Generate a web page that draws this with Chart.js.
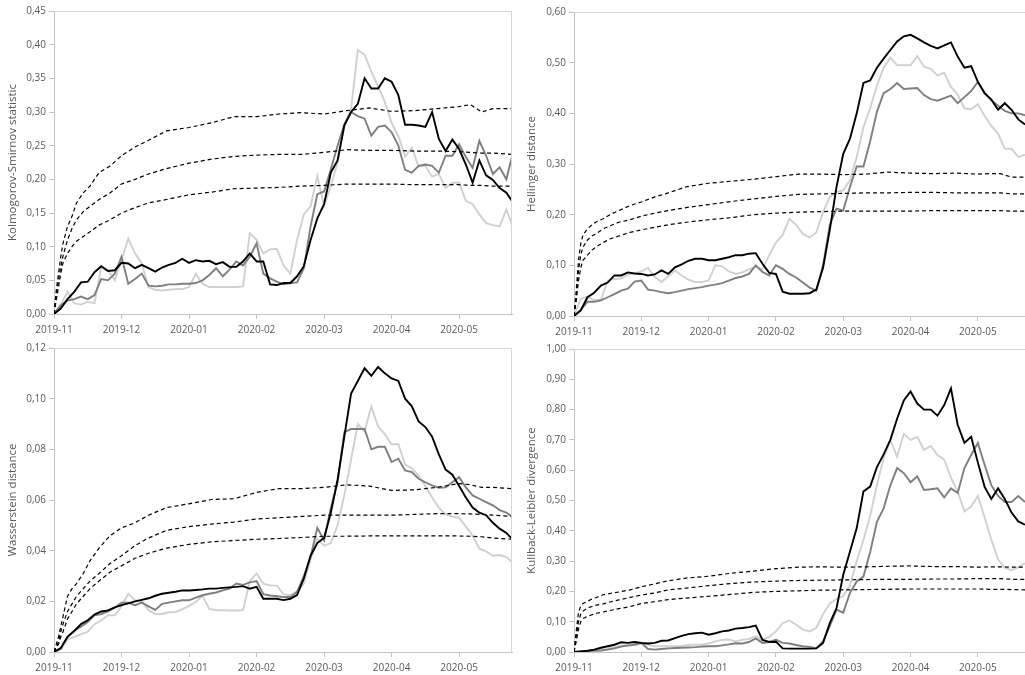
<!DOCTYPE html>
<html>
<head>
<meta charset="utf-8">
<script src="https://cdn.jsdelivr.net/npm/chart.js@4.4.1/dist/chart.umd.min.js"></script>
<style>
  body { margin: 0; background: #fff; }
  .panel { position: absolute; }
</style>
</head>
<body>
<div class="panel" style="left:0;top:0;width:513px;height:337px"><canvas id="ks"></canvas></div>
<div class="panel" style="left:512px;top:0;width:513px;height:337px"><canvas id="hel"></canvas></div>
<div class="panel" style="left:0;top:337px;width:513px;height:338px"><canvas id="was"></canvas></div>
<div class="panel" style="left:512px;top:337px;width:513px;height:338px"><canvas id="kl"></canvas></div>
<script>
// x is a day index, 30 per month tick
const days = [0,3,6,9,12,15,18,21,24,27,30,33,36,39,42,45,48,51,54,57,60,63,66,69,72,75,78,81,84,87,
  90,93,96,99,102,105,108,111,114,117,120,123,126,129,132,135,138,141,144,147,150,153,156,159,162,165,168,171,174,177,180,183,186,189,192,195,198,201,203.5];
const refDays = [0,1,2,3,4,6,8,10,13,16,20,25,30,36,42,50,60,70,80,90,100,110,120,130,140,150,160,170,180,185,190,195,203.5];
const monthTicks = [0,30,60,90,120,150,180];
const monthLabels = ['2019-11','2019-12','2020-01','2020-02','2020-03','2020-04','2020-05'];

// Kolmogorov-Smirnov
const ksBlack = [0,0.008,0.022,0.033,0.047,0.048,0.062,0.071,0.064,0.065,0.076,0.075,0.068,0.073,0.068,0.063,0.069,0.073,0.076,0.082,0.076,0.08,0.078,0.079,0.074,0.077,0.07,0.07,0.078,0.09,
  0.078,0.078,0.044,0.043,0.046,0.046,0.056,0.071,0.11,0.142,0.163,0.21,0.228,0.28,0.3,0.312,0.35,0.335,0.335,0.35,0.345,0.325,0.281,0.281,0.28,0.278,0.3,0.26,0.242,0.259,0.245,0.222,0.195,0.228,0.206,0.199,0.187,0.18,0.168];
const ksDark = [0,0.013,0.02,0.022,0.026,0.022,0.028,0.052,0.05,0.06,0.085,0.045,0.052,0.06,0.042,0.041,0.042,0.044,0.044,0.045,0.045,0.046,0.05,0.058,0.068,0.056,0.066,0.078,0.072,0.085,
  0.105,0.06,0.053,0.048,0.044,0.046,0.047,0.068,0.13,0.178,0.182,0.215,0.25,0.282,0.3,0.294,0.29,0.265,0.278,0.28,0.27,0.25,0.214,0.21,0.22,0.222,0.22,0.21,0.235,0.235,0.252,0.233,0.217,0.257,0.235,0.208,0.218,0.2,0.234];
const ksLight = [0,0.014,0.033,0.016,0.014,0.018,0.016,0.07,0.065,0.05,0.08,0.112,0.09,0.075,0.04,0.036,0.035,0.036,0.037,0.037,0.04,0.06,0.045,0.04,0.04,0.04,0.04,0.04,0.041,0.12,
  0.11,0.09,0.096,0.097,0.072,0.06,0.11,0.148,0.16,0.205,0.16,0.19,0.225,0.28,0.305,0.392,0.385,0.36,0.338,0.315,0.284,0.264,0.234,0.247,0.219,0.22,0.204,0.208,0.187,0.195,0.195,0.168,0.163,0.148,0.135,0.132,0.13,0.155,0.133];
const ksRefHigh = [0,0.035,0.06,0.085,0.105,0.13,0.145,0.165,0.18,0.19,0.21,0.22,0.235,0.248,0.258,0.272,0.277,0.284,0.293,0.293,0.297,0.299,0.297,0.302,0.306,0.301,0.302,0.305,0.308,0.311,0.3,0.305,0.305];
const ksRefMid = [0,0.025,0.05,0.07,0.086,0.11,0.127,0.14,0.152,0.16,0.17,0.18,0.193,0.2,0.208,0.216,0.224,0.23,0.234,0.236,0.237,0.237,0.24,0.244,0.243,0.243,0.242,0.242,0.241,0.24,0.239,0.239,0.237];
const ksRefLow = [0,0.02,0.04,0.06,0.076,0.09,0.1,0.108,0.115,0.122,0.132,0.14,0.15,0.158,0.165,0.17,0.177,0.181,0.186,0.187,0.188,0.19,0.191,0.193,0.193,0.193,0.192,0.192,0.192,0.191,0.191,0.19,0.19];

// Hellinger
const helBlack = [0,0.011,0.037,0.046,0.06,0.066,0.08,0.08,0.086,0.084,0.083,0.08,0.082,0.09,0.083,0.096,0.102,0.109,0.113,0.113,0.11,0.11,0.113,0.116,0.12,0.12,0.123,0.124,0.103,0.085,
  0.083,0.048,0.044,0.044,0.044,0.045,0.052,0.095,0.17,0.255,0.32,0.35,0.4,0.46,0.465,0.49,0.508,0.525,0.542,0.552,0.555,0.548,0.54,0.533,0.528,0.534,0.54,0.512,0.49,0.493,0.462,0.44,0.427,0.407,0.42,0.407,0.388,0.378,0.375];
const helDark = [0,0.012,0.028,0.028,0.031,0.037,0.043,0.05,0.054,0.068,0.07,0.052,0.05,0.047,0.045,0.047,0.05,0.053,0.055,0.057,0.06,0.062,0.065,0.07,0.075,0.078,0.083,0.1,0.087,0.08,
  0.1,0.093,0.083,0.076,0.066,0.056,0.05,0.1,0.18,0.212,0.208,0.255,0.295,0.295,0.345,0.403,0.44,0.448,0.46,0.448,0.449,0.45,0.436,0.428,0.425,0.43,0.435,0.42,0.432,0.444,0.462,0.44,0.426,0.415,0.405,0.4,0.4,0.396,0.396];
const helLight = [0,0.034,0.038,0.031,0.032,0.07,0.073,0.074,0.082,0.084,0.088,0.095,0.077,0.067,0.078,0.09,0.08,0.072,0.067,0.067,0.07,0.1,0.098,0.088,0.083,0.086,0.092,0.097,0.092,0.12,
  0.145,0.16,0.192,0.18,0.162,0.155,0.165,0.205,0.235,0.245,0.248,0.268,0.314,0.373,0.41,0.455,0.49,0.51,0.495,0.495,0.495,0.513,0.492,0.488,0.475,0.48,0.452,0.437,0.41,0.408,0.418,0.395,0.375,0.36,0.33,0.33,0.314,0.318,0.318];
const helRefHigh = [0,0.05,0.11,0.143,0.16,0.172,0.18,0.186,0.192,0.2,0.208,0.218,0.225,0.235,0.243,0.255,0.262,0.266,0.27,0.275,0.28,0.28,0.279,0.28,0.284,0.282,0.281,0.282,0.28,0.281,0.281,0.274,0.274];
const helRefMid = [0,0.04,0.09,0.12,0.136,0.15,0.158,0.163,0.172,0.178,0.185,0.19,0.197,0.203,0.208,0.214,0.22,0.226,0.231,0.236,0.24,0.241,0.242,0.243,0.243,0.244,0.244,0.243,0.243,0.243,0.243,0.241,0.241];
const helRefLow = [0,0.03,0.07,0.095,0.11,0.12,0.13,0.137,0.145,0.152,0.158,0.165,0.17,0.175,0.18,0.185,0.19,0.194,0.2,0.203,0.205,0.206,0.207,0.207,0.207,0.207,0.208,0.208,0.208,0.208,0.208,0.207,0.207];

// Wasserstein
const wasBlack = [0,0.0015,0.006,0.0083,0.011,0.0125,0.0148,0.016,0.0164,0.0176,0.0185,0.0192,0.02,0.0206,0.0212,0.0222,0.023,0.0234,0.0238,0.0243,0.0243,0.0245,0.0247,0.025,0.025,0.0253,0.0255,0.0257,0.026,0.025,
  0.0257,0.021,0.021,0.021,0.0205,0.021,0.0225,0.029,0.038,0.043,0.045,0.055,0.068,0.085,0.102,0.107,0.112,0.109,0.1125,0.11,0.108,0.107,0.1,0.097,0.091,0.0888,0.085,0.078,0.072,0.07,0.0655,0.061,0.057,0.055,0.054,0.051,0.0487,0.047,0.0447];
const wasDark = [0,0.0015,0.006,0.0085,0.01,0.0118,0.0145,0.015,0.016,0.0175,0.0195,0.0195,0.0185,0.0195,0.018,0.0166,0.019,0.0195,0.02,0.0204,0.0204,0.0215,0.0224,0.023,0.0235,0.0243,0.025,0.027,0.0265,0.0275,
  0.028,0.0228,0.0223,0.022,0.0217,0.0217,0.0237,0.03,0.0375,0.049,0.044,0.057,0.067,0.0868,0.088,0.088,0.088,0.08,0.081,0.081,0.075,0.0763,0.0717,0.071,0.0684,0.067,0.0658,0.0648,0.065,0.067,0.069,0.065,0.0618,0.0605,0.0592,0.0579,0.056,0.055,0.0535];
const wasLight = [0,0.001,0.005,0.006,0.007,0.008,0.011,0.0125,0.0145,0.0145,0.018,0.023,0.0205,0.02,0.0165,0.015,0.015,0.0157,0.0158,0.0168,0.0182,0.0197,0.0222,0.017,0.0165,0.0165,0.0164,0.0164,0.0165,0.028,
  0.031,0.027,0.0263,0.0262,0.0228,0.0224,0.024,0.027,0.0365,0.0447,0.042,0.043,0.05,0.062,0.076,0.09,0.087,0.097,0.089,0.086,0.082,0.082,0.074,0.0725,0.0697,0.0655,0.061,0.057,0.0543,0.0535,0.053,0.0495,0.046,0.0408,0.0397,0.038,0.0383,0.0375,0.0355];
const wasRefHigh = [0,0.003,0.006,0.01,0.014,0.022,0.025,0.027,0.031,0.036,0.041,0.046,0.049,0.051,0.054,0.057,0.0585,0.0602,0.0605,0.063,0.0645,0.0645,0.065,0.066,0.0655,0.0638,0.064,0.065,0.0665,0.066,0.065,0.065,0.0645];
const wasRefMid = [0,0.002,0.004,0.008,0.011,0.016,0.019,0.022,0.025,0.028,0.031,0.035,0.038,0.042,0.045,0.048,0.0495,0.0505,0.0513,0.0525,0.053,0.0535,0.054,0.054,0.054,0.054,0.0543,0.0546,0.0546,0.0545,0.0543,0.054,0.0535];
const wasRefLow = [0,0.002,0.003,0.006,0.008,0.013,0.016,0.019,0.022,0.025,0.028,0.0316,0.034,0.037,0.039,0.041,0.0425,0.0435,0.044,0.0445,0.0448,0.0452,0.0457,0.0457,0.0458,0.0458,0.0458,0.0458,0.0458,0.0457,0.0455,0.045,0.0445];

// Kullback-Leibler
const klBlack = [0,0.002,0.004,0.008,0.014,0.019,0.024,0.032,0.03,0.033,0.03,0.028,0.03,0.037,0.038,0.046,0.053,0.059,0.062,0.064,0.057,0.062,0.068,0.071,0.077,0.079,0.082,0.087,0.04,0.033,
  0.034,0.012,0.011,0.011,0.011,0.011,0.012,0.03,0.095,0.145,0.255,0.332,0.409,0.53,0.546,0.61,0.652,0.7,0.77,0.83,0.86,0.82,0.8,0.8,0.78,0.815,0.87,0.75,0.69,0.71,0.625,0.545,0.505,0.54,0.505,0.46,0.431,0.42,0.42];
const klDark = [0,0.002,0.003,0.004,0.005,0.008,0.012,0.018,0.021,0.024,0.03,0.01,0.008,0.01,0.012,0.013,0.014,0.015,0.016,0.018,0.019,0.019,0.022,0.025,0.029,0.028,0.033,0.045,0.03,0.033,
  0.04,0.03,0.028,0.023,0.019,0.017,0.013,0.035,0.085,0.14,0.13,0.195,0.233,0.249,0.33,0.43,0.474,0.55,0.607,0.59,0.56,0.58,0.535,0.537,0.54,0.51,0.54,0.525,0.607,0.65,0.69,0.618,0.55,0.515,0.495,0.495,0.515,0.495,0.5];
const klLight = [0,0.001,0.003,0.006,0.008,0.012,0.016,0.02,0.024,0.024,0.027,0.024,0.019,0.019,0.019,0.019,0.02,0.023,0.024,0.025,0.028,0.035,0.04,0.041,0.035,0.04,0.043,0.052,0.04,0.05,
  0.068,0.095,0.104,0.09,0.074,0.068,0.08,0.125,0.16,0.175,0.185,0.22,0.3,0.37,0.45,0.55,0.64,0.7,0.645,0.72,0.7,0.71,0.667,0.68,0.65,0.635,0.575,0.53,0.464,0.48,0.515,0.445,0.37,0.305,0.278,0.27,0.28,0.293,0.29];
const klRefHigh = [0,0.07,0.13,0.152,0.16,0.167,0.175,0.18,0.189,0.193,0.198,0.205,0.215,0.225,0.235,0.244,0.25,0.26,0.267,0.275,0.28,0.281,0.28,0.281,0.283,0.284,0.282,0.282,0.28,0.281,0.281,0.28,0.28];
const klRefMid = [0,0.05,0.1,0.125,0.135,0.145,0.15,0.155,0.159,0.165,0.172,0.18,0.188,0.195,0.205,0.211,0.219,0.226,0.231,0.234,0.236,0.237,0.238,0.239,0.24,0.24,0.241,0.241,0.242,0.242,0.242,0.24,0.24];
const klRefLow = [0,0.035,0.075,0.1,0.11,0.118,0.123,0.128,0.132,0.137,0.143,0.15,0.16,0.166,0.173,0.178,0.184,0.19,0.197,0.2,0.202,0.204,0.205,0.206,0.207,0.208,0.208,0.208,0.208,0.207,0.207,0.206,0.205];

Chart.defaults.font.family = "'Open Sans', sans-serif";
Chart.defaults.font.size = 10;
Chart.defaults.color = '#595959';

const AXIS = '#c4c4c4';

// light frame on top (and right for the left column)
const framePlugin = {
  id: 'frame',
  afterDraw(chart, args, opts) {
    const { ctx, chartArea: a } = chart;
    ctx.save();
    ctx.strokeStyle = '#d6d6d6';
    ctx.lineWidth = 1;
    ctx.beginPath();
    ctx.moveTo(a.left, a.top + 0.5);
    ctx.lineTo(a.right, a.top + 0.5);
    if (opts.right) {
      ctx.moveTo(a.right - 0.5, a.top);
      ctx.lineTo(a.right - 0.5, a.bottom);
    }
    ctx.stroke();
    ctx.restore();
  }
};

function pairs(xs, ys) {
  return xs.map((x, i) => ({ x: x, y: ys[i] }));
}

function makeChart(id, c) {
  const datasets = [];
  [c.high, c.mid, c.low].forEach(r => {
    datasets.push({ data: pairs(refDays, r), borderColor: '#000', borderWidth: 1.2, borderDash: [4, 3] });
  });
  datasets.push({ data: pairs(days, c.black), borderColor: '#000', borderWidth: 1.9 });
  datasets.push({ data: pairs(days, c.dark), borderColor: '#7f7f7f', borderWidth: 1.9 });
  datasets.push({ data: pairs(days, c.light), borderColor: '#d0d0d0', borderWidth: 1.9 });

  new Chart(document.getElementById(id), {
    type: 'line',
    data: { datasets: datasets },
    plugins: [framePlugin],
    options: {
      responsive: true,
      maintainAspectRatio: false,
      animation: false,
      layout: { padding: { top: c.top, right: c.right, left: 0, bottom: 0 } },
      elements: { point: { radius: 0 }, line: { tension: 0, fill: false } },
      plugins: {
        legend: { display: false },
        tooltip: { enabled: false },
        frame: { right: c.right > 0 }
      },
      scales: {
        x: {
          type: 'linear',
          min: 0,
          max: c.xMax,
          afterBuildTicks: s => { s.ticks = monthTicks.map(v => ({ value: v })); },
          afterFit: s => { s.height = c.xh; },
          ticks: { autoSkip: false, maxRotation: 0, padding: 5, callback: (v, i) => monthLabels[i] },
          grid: { drawOnChartArea: false, color: AXIS, tickLength: 5 },
          border: { color: AXIS }
        },
        y: {
          min: 0,
          max: c.yMax,
          afterFit: s => { s.width = c.yw; },
          ticks: { stepSize: c.step, padding: 3, callback: v => v.toFixed(2).replace('.', ',') },
          grid: { drawOnChartArea: false, color: AXIS, tickLength: 5 },
          border: { color: AXIS },
          title: { display: true, text: c.title, font: { size: 11.5 }, padding: { top: c.tp, bottom: 0 } }
        }
      }
    }
  });
}

makeChart('ks', { title: 'Kolmogorov-Smirnov statistic', yMax: 0.45, step: 0.05, yw: 54, xh: 23, top: 11, right: 1, tp: 6, xMax: 203.5,
  black: ksBlack, dark: ksDark, light: ksLight, high: ksRefHigh, mid: ksRefMid, low: ksRefLow });
makeChart('hel', { title: 'Hellinger distance', yMax: 0.6, step: 0.1, yw: 62, xh: 21, top: 12, right: 0, tp: 13, xMax: 201,
  black: helBlack, dark: helDark, light: helLight, high: helRefHigh, mid: helRefMid, low: helRefLow });
makeChart('was', { title: 'Wasserstein distance', yMax: 0.12, step: 0.02, yw: 54, xh: 23, top: 11, right: 1, tp: 6, xMax: 203.5,
  black: wasBlack, dark: wasDark, light: wasLight, high: wasRefHigh, mid: wasRefMid, low: wasRefLow });
makeChart('kl', { title: 'Kullback-Leibler divergence', yMax: 1, step: 0.1, yw: 62, xh: 23, top: 12, right: 0, tp: 13, xMax: 201,
  black: klBlack, dark: klDark, light: klLight, high: klRefHigh, mid: klRefMid, low: klRefLow });
</script>
</body>
</html>
